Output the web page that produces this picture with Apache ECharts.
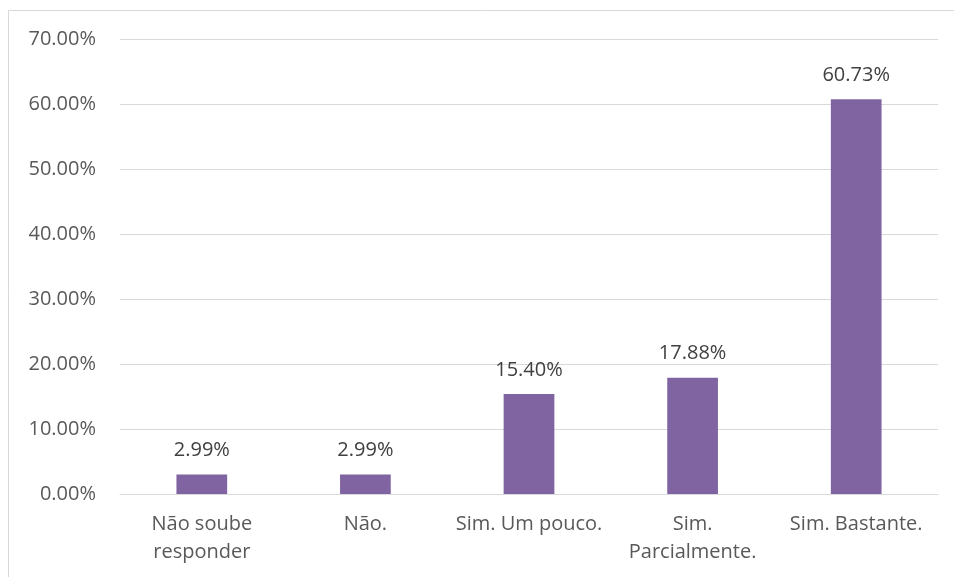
<!DOCTYPE html>
<html>
<head>
<meta charset="utf-8">
<script src="https://cdn.jsdelivr.net/npm/echarts@6/dist/echarts.min.js"></script>
<style>
  html, body { margin: 0; padding: 0; background: #fff; }
  #chart { width: 954px; height: 577px; }
</style>
</head>
<body>
<div id="chart"></div>
<script>
var categories = ['Não soube\nresponder', 'Não.', 'Sim. Um pouco.', 'Sim.\nParcialmente.', 'Sim. Bastante.'];
var values = [2.99, 2.99, 15.40, 17.88, 60.73];
var yMax = 70;
var yStep = 10;

var chart = echarts.init(document.getElementById('chart'));
var font = '"Open Sans", "Noto Sans", sans-serif';

var option = {
    animation: false,
    textStyle: { fontFamily: font },
    graphic: [{
        type: 'rect',
        shape: { x: 8.5, y: 10.5, width: 2000, height: 2000 },
        style: { fill: 'none', stroke: '#d9d9d9', lineWidth: 1 },
        silent: true
    }],
    grid: { left: 120, right: 16, top: 39, bottom: 83 },
    xAxis: {
        type: 'category',
        data: categories,
        axisLine: { lineStyle: { color: '#d9d9d9', width: 1 } },
        axisTick: { show: false },
        axisLabel: {
            color: '#595959',
            fontSize: 20,
            fontFamily: font,
            lineHeight: 28,
            margin: 16,
            interval: 0
        }
    },
    yAxis: {
        type: 'value',
        min: 0,
        max: yMax,
        interval: yStep,
        axisLine: { show: false },
        axisTick: { show: false },
        splitLine: { lineStyle: { color: '#d9d9d9', width: 1 } },
        axisLabel: {
            color: '#595959',
            fontSize: 20,
            fontFamily: font,
            margin: 24,
            formatter: function (v) { return v.toFixed(2) + '%'; }
        }
    },
    series: [{
        type: 'bar',
        data: values,
        barWidth: '31%',
        itemStyle: { color: '#8064a2' },
        label: {
            show: true,
            position: 'top',
            distance: 14,
            color: '#404040',
            fontSize: 20,
            fontFamily: font,
            formatter: function (p) { return p.value.toFixed(2) + '%'; }
        }
    }]
};

chart.setOption(option);
</script>
</body>
</html>
